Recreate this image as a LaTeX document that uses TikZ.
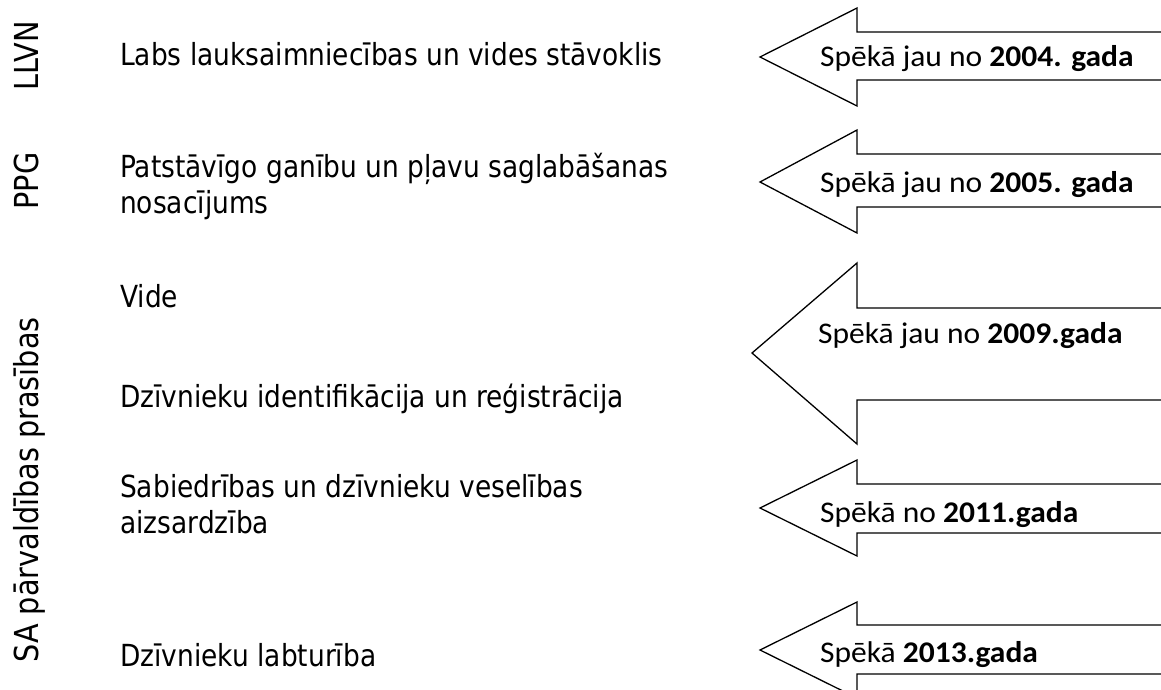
\documentclass[tikz,border=0pt]{standalone}
\usepackage{fontspec}
\newfontfamily\tahfont[FakeStretch=0.87]{DejaVu Sans}
\newfontfamily\calfont[FakeStretch=1.05]{Carlito}
\begin{document}
\begin{tikzpicture}[x=1pt,y=-1pt,
  lbl/.style={anchor=base west,inner sep=0pt,font=\tahfont\fontsize{30.4}{36}\selectfont},
  side/.style={anchor=base,rotate=90,inner sep=0pt,font=\tahfont\fontsize{33}{36}\selectfont},
  atext/.style={anchor=base west,inner sep=0pt,font=\calfont\fontsize{30}{36}\selectfont},
  arr/.style={draw=black,line width=1.3pt,line join=miter}]
\useasboundingbox (0,0) rectangle (1161,690);
\clip (0,0) rectangle (1161,690);
% side labels
\node[side] (s1) at (38,56) {LLVN};
\node[side] (s2) at (38,181) {PPG};
\node[side] (s3) at (38,490) {SA pārvaldības prasības};
% left labels
\node[lbl] (l1) at (120,66) {Labs lauksaimniecības un vides stāvoklis};
\node[lbl] (l2a) at (120,177) {Patstāvīgo ganību un pļavu saglabāšanas};
\node[lbl] (l2b) at (120,213) {nosacījums};
\node[lbl] (l3) at (120,307) {Vide};
\node[lbl] (l4) at (120,407) {Dzīvnieku identifikācija un reģistrācija};
\node[lbl] (l5a) at (120,497) {Sabiedrības un dzīvnieku veselības};
\node[lbl] (l5b) at (120,533) {aizsardzība};
\node[lbl] (l6) at (120,666) {Dzīvnieku labturība};
% arrows
\draw[arr] (1175,32) -- (857,32) -- (857,8) -- (760,57) -- (857,106) -- (857,80) -- (1175,80);
\draw[arr] (1175,154) -- (857,154) -- (857,130) -- (760,182) -- (857,233) -- (857,207) -- (1175,207);
\draw[arr] (1175,308) -- (857,308) -- (857,263) -- (752,353) -- (857,444) -- (857,400) -- (1175,400);
\draw[arr] (1175,484) -- (857,484) -- (857,460) -- (760,508) -- (857,556) -- (857,533) -- (1175,533);
\draw[arr] (1175,625) -- (857,625) -- (857,602) -- (760,650) -- (857,698) -- (857,674) -- (1175,674);
\node[atext] (a1) at (820,67) {Spēkā jau no \textbf{2004. gada}};
\node[atext] (a2) at (820,192) {Spēkā jau no \textbf{2005. gada}};
\node[atext] (a3) at (818,343) {Spēkā jau no \textbf{2009.gada}};
\node[atext] (a4) at (820,522) {Spēkā no \textbf{2011.gada}};
\node[atext] (a5) at (820,662) {Spēkā \textbf{2013.gada}};
\end{tikzpicture}
\end{document}
